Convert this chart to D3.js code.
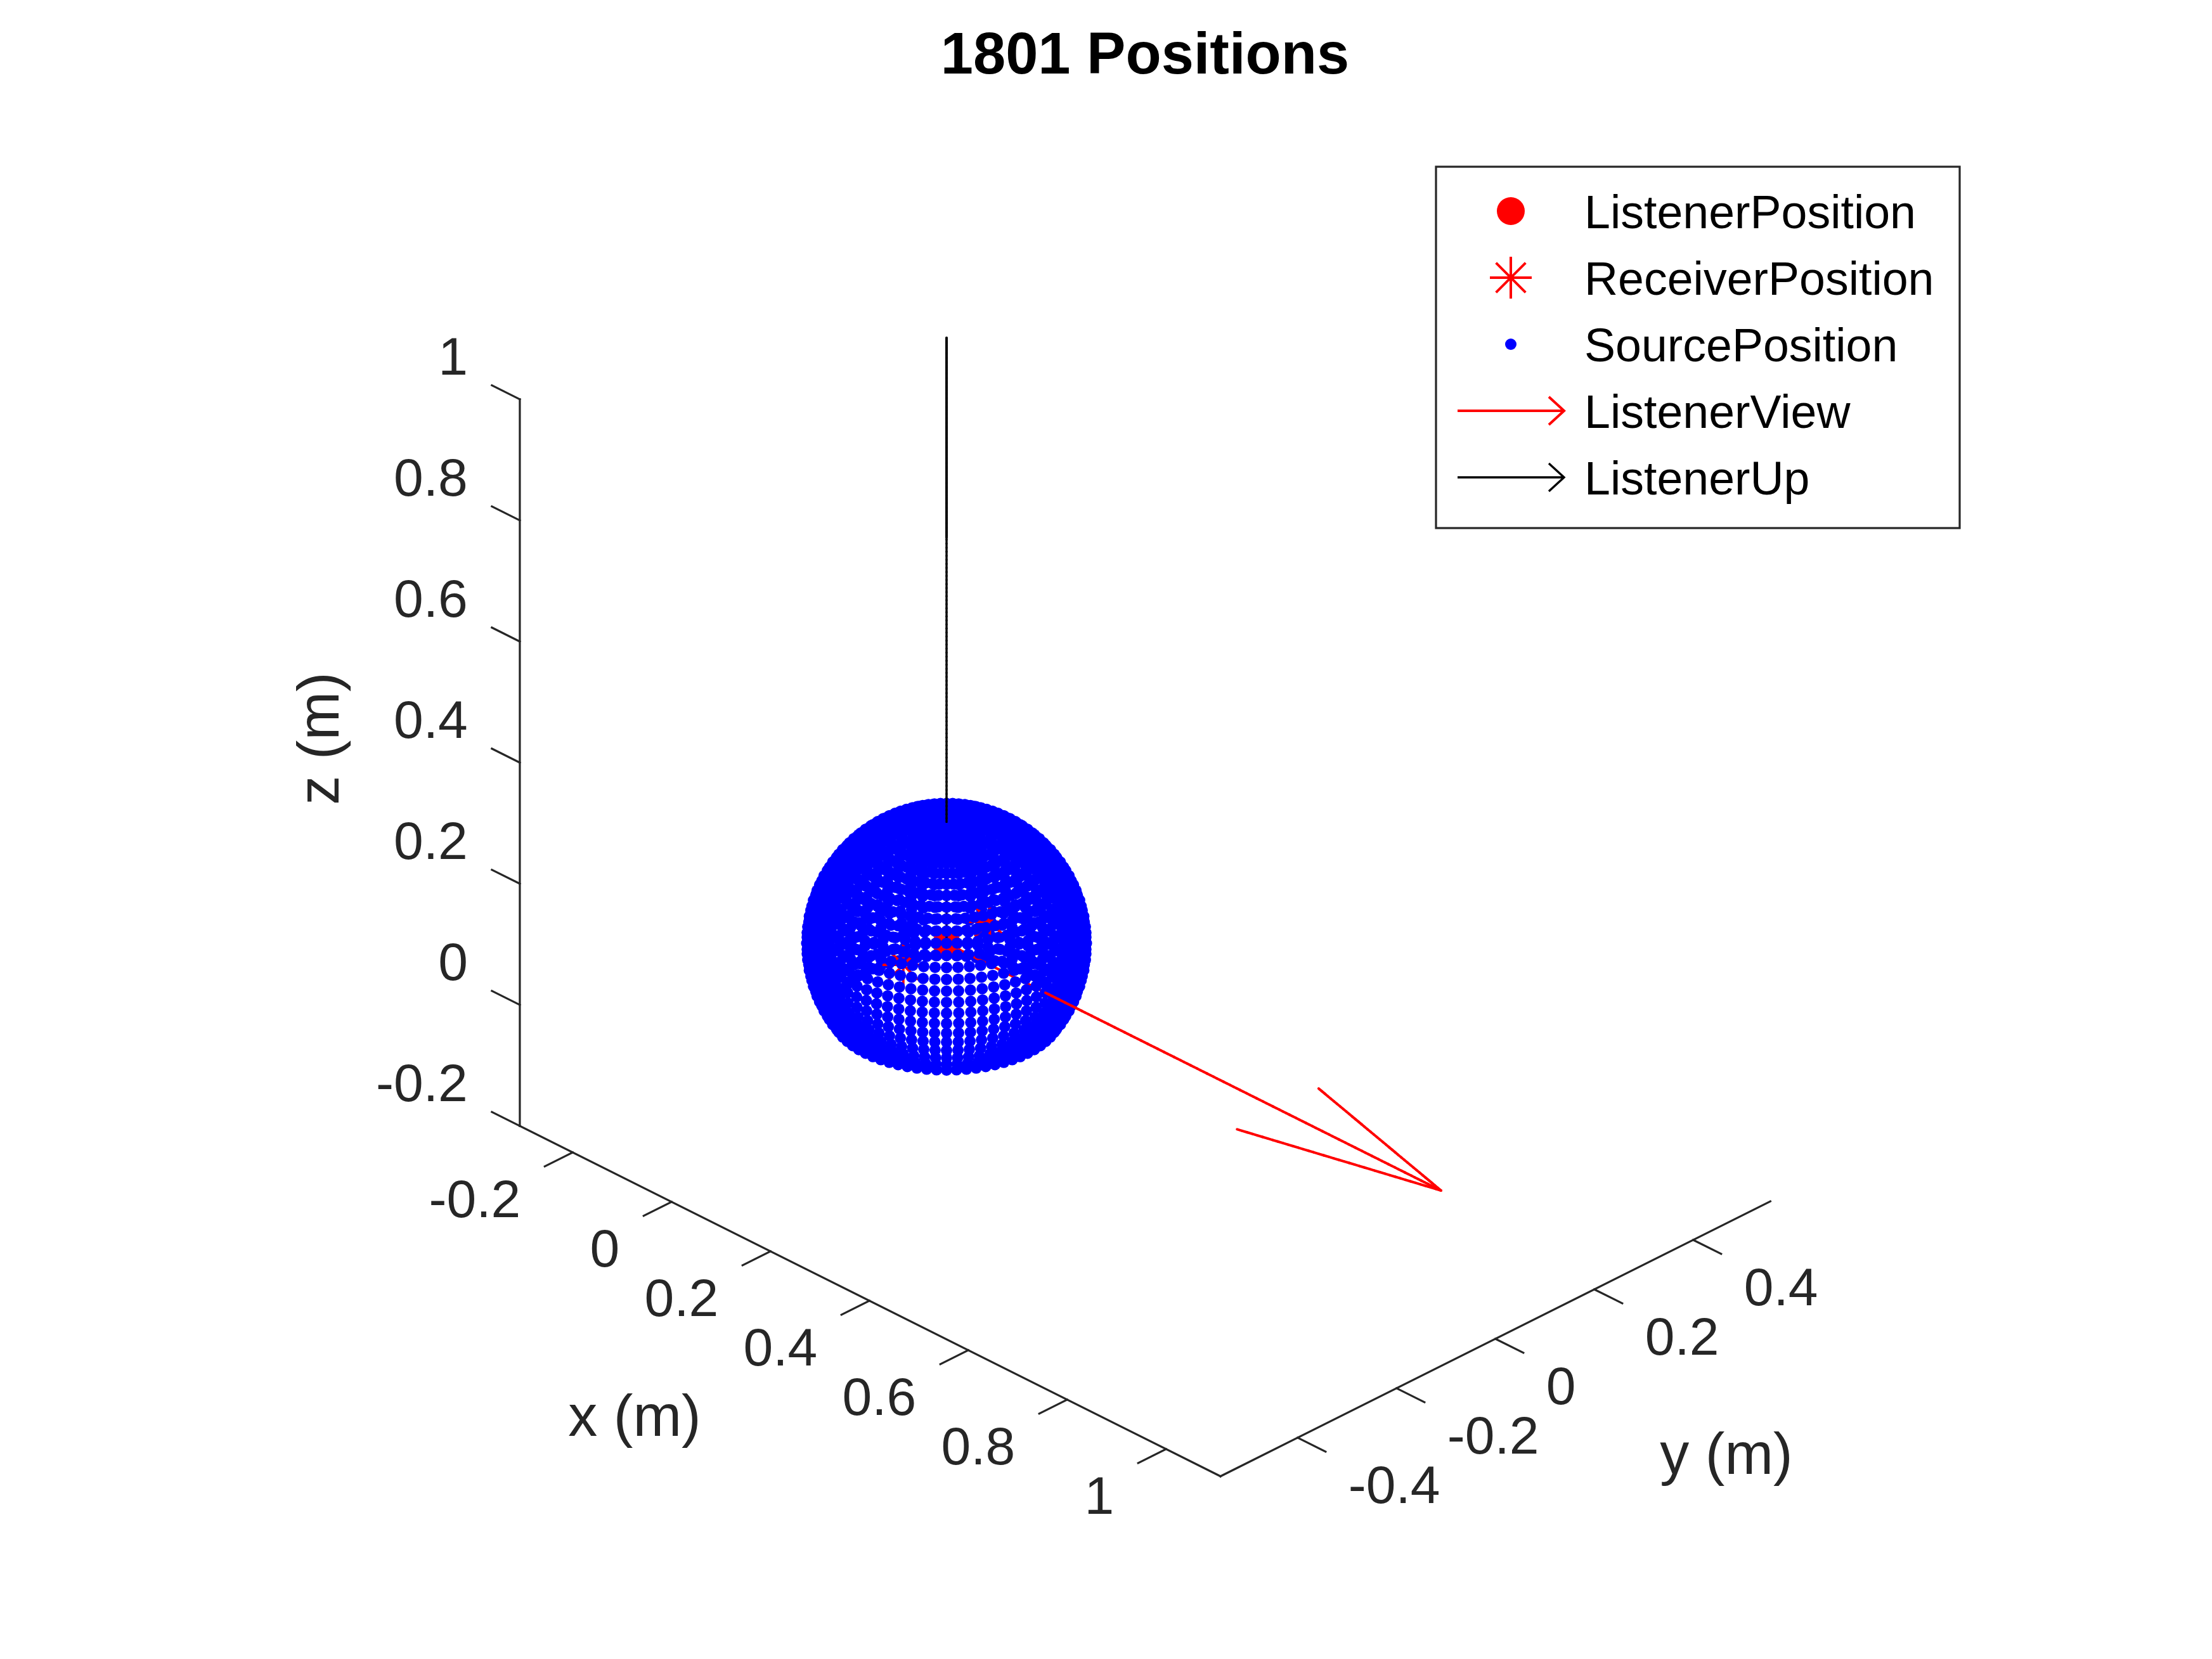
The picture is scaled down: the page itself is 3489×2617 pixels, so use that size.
<!DOCTYPE html>
<html>
<head>
<meta charset="utf-8">
<script src="https://cdnjs.cloudflare.com/ajax/libs/d3/7.8.5/d3.min.js"></script>
<style>
html,body{margin:0;padding:0;background:#ffffff;}
svg{display:block;}
</style>
</head>
<body>
<div id="chart"></div>
<script>
// ---------------- data ----------------
const titleText = "1801 Positions";
const sourceRadius = 0.2; // m
const sourceElevations = [-35,-30,-25,-20,-15,-10,-5,0,5,10,15,20,25,30,35,40,45,50,55,60,65,70,75,80,85];
const sourceAzimuths = [0,5,10,15,20,25,30,35,40,45,50,55,60,65,70,75,80,85,90,95,100,105,110,115,120,125,130,135,140,145,150,155,160,165,170,175,180,185,190,195,200,205,210,215,220,225,230,235,240,245,250,255,260,265,270,275,280,285,290,295,300,305,310,315,320,325,330,335,340,345,350,355];
const sourcePole = [90]; // single point at the top
const listenerPosition = [0, 0, 0];
const receiverPositions = [[0, 0.0875, 0], [0, -0.0875, 0]];
const listenerView = [1, 0, 0];
const listenerUp = [0, 0, 1];

const xLim = [-0.307, 1.11];
const yLim = [-0.556, 0.556];
const zLim = [-0.2, 1];
const xTicks = [-0.2, 0, 0.2, 0.4, 0.6, 0.8, 1];
const yTicks = [-0.4, -0.2, 0, 0.2, 0.4];
const zTicks = [-0.2, 0, 0.2, 0.4, 0.6, 0.8, 1];
const xTickLabels = ["-0.2", "0", "0.2", "0.4", "0.6", "0.8", "1"];
const yTickLabels = ["-0.4", "-0.2", "0", "0.2", "0.4"];
const zTickLabels = ["-0.2", "0", "0.2", "0.4", "0.6", "0.8", "1"];
const axisLabels = ["x (m)", "y (m)", "z (m)"];
const legendLabels = ["ListenerPosition", "ReceiverPosition", "SourcePosition", "ListenerView", "ListenerUp"];

// ---------------- setup ----------------
const W = 3489, H = 2617;
const FONT = "'Liberation Sans', Arial, Helvetica, sans-serif";
const AXC = "#262626";

const svg = d3.select("#chart").append("svg")
  .attr("width", W).attr("height", H)
  .attr("viewBox", `0 0 ${W} ${H}`);
svg.append("rect").attr("width", W).attr("height", H).attr("fill", "#ffffff");

// view (orthographic, MATLAB-like)
const viewAz = -45 * Math.PI / 180, viewEl = 30 * Math.PI / 180;
const rightV = [-Math.sin(viewAz), Math.cos(viewAz), 0];
const upV = [-Math.sin(viewEl) * Math.cos(viewAz), -Math.sin(viewEl) * Math.sin(viewAz), Math.cos(viewEl)];
const towardV = [Math.cos(viewEl) * Math.cos(viewAz), Math.cos(viewEl) * Math.sin(viewAz), Math.sin(viewEl)];
const dot3 = (a, b) => a[0]*b[0] + a[1]*b[1] + a[2]*b[2];

const pxPerUnit = 1103;
const screenX = d3.scaleLinear().domain([0, 1]).range([1493, 1493 + pxPerUnit]);
const screenY = d3.scaleLinear().domain([0, 1]).range([1488, 1488 - pxPerUnit]);
const proj = p => [screenX(dot3(p, rightV)), screenY(dot3(p, upV))];
const depth = p => dot3(p, towardV);
const lerp3 = (a, b, t) => [a[0] + (b[0]-a[0])*t, a[1] + (b[1]-a[1])*t, a[2] + (b[2]-a[2])*t];

// ---------------- axes ----------------
const gAx = svg.append("g");
function line3(g, a, b, color, w) {
  const pa = proj(a), pb = proj(b);
  return g.append("line")
    .attr("x1", pa[0]).attr("y1", pa[1]).attr("x2", pb[0]).attr("y2", pb[1])
    .attr("stroke", color).attr("stroke-width", w).attr("stroke-linecap", "square");
}
const tickLen = 0.0565;
// z axis at (xmin, ymin)
line3(gAx, [xLim[0], yLim[0], zLim[0]], [xLim[0], yLim[0], zLim[1]], AXC, 3.2);
// x axis at (ymin, zmin)
line3(gAx, [xLim[0], yLim[0], zLim[0]], [xLim[1], yLim[0], zLim[0]], AXC, 3.2);
// y axis at (xmax, zmin)
line3(gAx, [xLim[1], yLim[0], zLim[0]], [xLim[1], yLim[1], zLim[0]], AXC, 3.2);

zTicks.forEach((z, i) => {
  const a = [xLim[0], yLim[0], z], b = [xLim[0] - tickLen, yLim[0], z];
  line3(gAx, a, b, AXC, 3.2);
  const pa = proj(a), pb = proj(b);
  gAx.append("text").attr("x", pb[0] - 38).attr("y", pa[1] - 39)
    .attr("text-anchor", "end").attr("font-family", FONT).attr("font-size", 84)
    .attr("fill", AXC).text(zTickLabels[i]);
});
xTicks.forEach((x, i) => {
  const a = [x, yLim[0], zLim[0]], b = [x, yLim[0] - tickLen, zLim[0]];
  line3(gAx, a, b, AXC, 3.2);
  const pa = proj(a), pb = proj(b);
  gAx.append("text").attr("x", pb[0] - 38).attr("y", pa[1] + 102)
    .attr("text-anchor", "end").attr("font-family", FONT).attr("font-size", 84)
    .attr("fill", AXC).text(xTickLabels[i]);
});
yTicks.forEach((y, i) => {
  const a = [xLim[1], y, zLim[0]], b = [xLim[1] + tickLen, y, zLim[0]];
  line3(gAx, a, b, AXC, 3.2);
  const pa = proj(a), pb = proj(b);
  gAx.append("text").attr("x", pb[0] + 36).attr("y", pa[1] + 103)
    .attr("text-anchor", "start").attr("font-family", FONT).attr("font-size", 84)
    .attr("fill", AXC).text(yTickLabels[i]);
});

// axis labels
gAx.append("text").attr("x", 1001).attr("y", 2265).attr("text-anchor", "middle")
  .attr("font-family", FONT).attr("font-size", 92).attr("fill", AXC).text(axisLabels[0]);
gAx.append("text").attr("x", 2723).attr("y", 2325).attr("text-anchor", "middle")
  .attr("font-family", FONT).attr("font-size", 92).attr("fill", AXC).text(axisLabels[1]);
gAx.append("text").attr("transform", "translate(534,1165) rotate(-90)").attr("text-anchor", "middle")
  .attr("font-family", FONT).attr("font-size", 92).attr("fill", AXC).text(axisLabels[2]);

// title
svg.append("text").attr("x", 1806).attr("y", 116).attr("text-anchor", "middle")
  .attr("font-family", FONT).attr("font-size", 92).attr("font-weight", "bold")
  .attr("fill", "#000000").text(titleText);

// ---------------- data primitives with depth sorting ----------------
const deg = Math.PI / 180;
const sources = [];
sourceElevations.forEach(e => {
  sourceAzimuths.forEach(a => {
    sources.push([sourceRadius * Math.cos(e*deg) * Math.cos(a*deg),
                  sourceRadius * Math.cos(e*deg) * Math.sin(a*deg),
                  sourceRadius * Math.sin(e*deg)]);
  });
});
sourcePole.forEach(e => sources.push([0, 0, sourceRadius * Math.sin(e*deg)]));

const prims = [];
sources.forEach(p => prims.push({ kind: "dot", p, d: depth(p) }));
prims.push({ kind: "listener", p: listenerPosition, d: depth(listenerPosition) });
receiverPositions.forEach(p => prims.push({ kind: "star", p, d: depth(p) }));

function addQuiver(origin, vec, color, width) {
  const tip = [origin[0]+vec[0], origin[1]+vec[1], origin[2]+vec[2]];
  const n = 150;
  for (let i = 0; i < n; i++) {
    const a = lerp3(origin, tip, i / n), b = lerp3(origin, tip, (i + 1) / n);
    prims.push({ kind: "seg", a, b, color, width, d: depth(lerp3(a, b, 0.5)) });
  }
  const alpha = 0.33, beta = 0.25, eps = 1e-12;
  const [u, v, w] = vec;
  const b1 = [tip[0] - alpha*(u + beta*(v+eps)), tip[1] - alpha*(v - beta*(u+eps)), tip[2] - alpha*w];
  const b2 = [tip[0] - alpha*(u - beta*(v+eps)), tip[1] - alpha*(v + beta*(u+eps)), tip[2] - alpha*w];
  [b1, b2].forEach(bp => {
    const m = 40;
    for (let i = 0; i < m; i++) {
      const a = lerp3(bp, tip, i / m), b = lerp3(bp, tip, (i + 1) / m);
      prims.push({ kind: "seg", a, b, color, width, d: depth(lerp3(a, b, 0.5)) });
    }
  });
}
addQuiver(listenerPosition, listenerView, "#ff0000", 4);
addQuiver(listenerPosition, listenerUp, "#000000", 3.4);

prims.sort((p, q) => p.d - q.d);

const gData = svg.append("g");
function starPath(cx, cy, r) {
  const k = r / Math.SQRT2;
  return `M${cx-r},${cy}L${cx+r},${cy}M${cx},${cy-r}L${cx},${cy+r}` +
         `M${cx-k},${cy-k}L${cx+k},${cy+k}M${cx-k},${cy+k}L${cx+k},${cy-k}`;
}
prims.forEach(pr => {
  if (pr.kind === "dot") {
    const s = proj(pr.p);
    gData.append("circle").attr("cx", s[0]).attr("cy", s[1]).attr("r", 9).attr("fill", "#0000ff");
  } else if (pr.kind === "listener") {
    const s = proj(pr.p);
    gData.append("circle").attr("cx", s[0]).attr("cy", s[1]).attr("r", 22).attr("fill", "#ff0000");
  } else if (pr.kind === "star") {
    const s = proj(pr.p);
    gData.append("path").attr("d", starPath(s[0], s[1], 33)).attr("stroke", "#ff0000")
      .attr("stroke-width", 4).attr("fill", "none");
  } else {
    const a = proj(pr.a), b = proj(pr.b);
    gData.append("line").attr("x1", a[0]).attr("y1", a[1]).attr("x2", b[0]).attr("y2", b[1])
      .attr("stroke", pr.color).attr("stroke-width", pr.width).attr("stroke-linecap", "round");
  }
});

// ---------------- legend ----------------
const gLeg = svg.append("g");
gLeg.append("rect").attr("x", 2265).attr("y", 263).attr("width", 826).attr("height", 570)
  .attr("fill", "#ffffff").attr("stroke", AXC).attr("stroke-width", 3.2);
const legRowY = d3.scalePoint().domain(legendLabels).range([333, 753]);
const mx = 2383;
legendLabels.forEach((lab, i) => {
  const y = legRowY(lab);
  gLeg.append("text").attr("x", 2499).attr("y", y + 27).attr("font-family", FONT)
    .attr("font-size", 73.5).attr("fill", "#000000").text(lab);
  if (i === 0) {
    gLeg.append("circle").attr("cx", mx).attr("cy", y).attr("r", 22).attr("fill", "#ff0000");
  } else if (i === 1) {
    gLeg.append("path").attr("d", starPath(mx, y, 33)).attr("stroke", "#ff0000")
      .attr("stroke-width", 4).attr("fill", "none");
  } else if (i === 2) {
    gLeg.append("circle").attr("cx", mx).attr("cy", y).attr("r", 9).attr("fill", "#0000ff");
  } else {
    const col = i === 3 ? "#ff0000" : "#000000";
    const wdt = i === 3 ? 4 : 3.4;
    gLeg.append("path")
      .attr("d", `M2299,${y}L2467,${y}M2443,${y-22}L2467,${y}L2443,${y+22}`)
      .attr("stroke", col).attr("stroke-width", wdt).attr("fill", "none");
  }
});
</script>
</body>
</html>
